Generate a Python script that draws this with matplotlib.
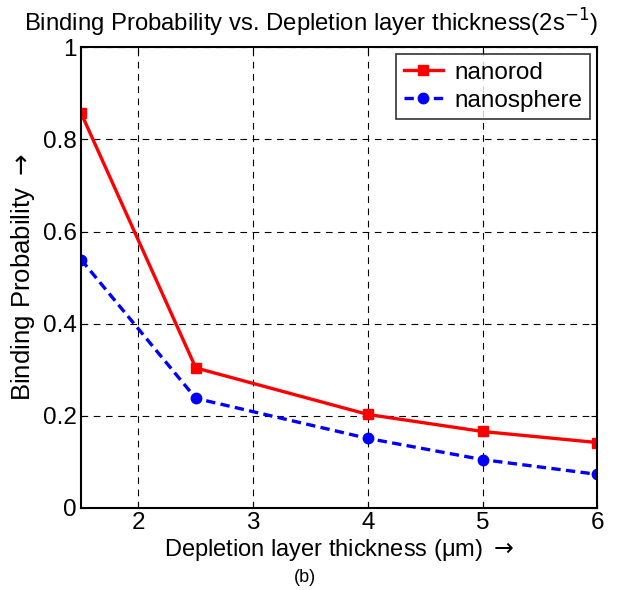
import numpy as np
import matplotlib.pyplot as plt

plt.rcParams['font.family'] = ['Liberation Sans', 'DejaVu Sans']

thickness = [1.5, 2.5, 4, 5, 6]
nanorod = [0.857, 0.304, 0.203, 0.166, 0.142]
nanosphere = [0.539, 0.238, 0.151, 0.105, 0.073]
xticks = [2, 3, 4, 5, 6]
yticks = [0, 0.2, 0.4, 0.6, 0.8, 1]
yticklabels = ['0', '0.2', '0.4', '0.6', '0.8', '1']

fig = plt.figure(figsize=(6.19, 5.90), dpi=100)
ax = fig.add_axes([0.131, 0.139, 0.834, 0.781])

ax.plot(thickness, nanorod, color='red', lw=2.4, marker='s', ms=7.5,
        label='nanorod')
ax.plot(thickness, nanosphere, color='blue', lw=2.4, ls='--', dashes=(2.8, 1.6),
        marker='o', ms=7.5, label='nanosphere')

ax.set_xlim(1.5, 6)
ax.set_ylim(0, 1)
ax.set_xticks(xticks)
ax.set_yticks(yticks)
ax.set_yticklabels(yticklabels)
ax.tick_params(direction='in', top=True, right=True, labelsize=17.5, length=4, pad=3)
ax.grid(True, color='black', ls=(0, (6, 5)), lw=0.8)
for s in ax.spines.values():
    s.set_linewidth(1.5)

# title centred on the figure, like the reference
fig.text(0.503, 0.962, 'Binding Probability vs. Depletion layer thickness(2s$^{-1}$)',
         ha='center', va='center', fontsize=17.2)
ax.set_ylabel('Binding Probability $\\rightarrow$', fontsize=18.5, labelpad=4)
ax.set_xlabel('Depletion layer thickness (\u03bcm) $\\rightarrow$', fontsize=17,
              labelpad=2)
fig.text(0.493, 0.007, '(b)', ha='center', va='bottom', fontsize=13)

leg = ax.legend(loc='upper right', fontsize=17.5, frameon=True, fancybox=False,
                borderaxespad=0.3, handlelength=1.6, handletextpad=0.5,
                labelspacing=0.25, borderpad=0.3)
leg.get_frame().set_edgecolor('black')
leg.get_frame().set_linewidth(1.2)

fig.savefig('out.png', dpi=100)
